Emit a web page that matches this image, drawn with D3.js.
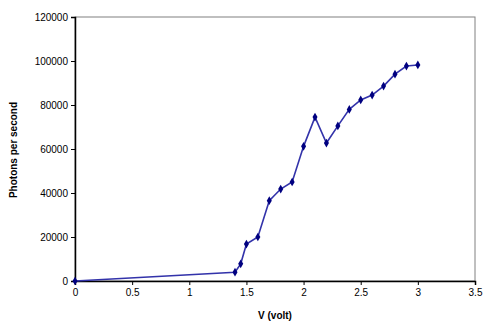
<!DOCTYPE html>
<html>
<head>
<meta charset="utf-8">
<script src="https://cdn.jsdelivr.net/npm/d3@7"></script>
<style>
  body { margin: 0; background: #fff; }
  text { font-family: "Liberation Sans", Arial, sans-serif; }
</style>
</head>
<body>
<div id="chart"></div>
<script>
// values
const voltage = [0, 1.4, 1.45, 1.5, 1.6, 1.7, 1.8, 1.9, 2.0, 2.1, 2.2, 2.3, 2.4, 2.5, 2.6, 2.7, 2.8, 2.9, 3.0];
const photons = [0, 4000, 7800, 16800, 20000, 36500, 41800, 45000, 61200, 74500, 62700, 70500, 78000, 82300, 84500, 88600, 94000, 97700, 98200];
const xTicks = [0, 0.5, 1, 1.5, 2, 2.5, 3, 3.5];
const yTicks = [0, 20000, 40000, 60000, 80000, 100000, 120000];

const margin = {top: 17, right: 8, bottom: 43, left: 75},
  width = 483 - margin.left - margin.right,
  height = 324 - margin.top - margin.bottom;

const svg = d3.select("#chart")
  .append("svg")
  .attr("width", 483)
  .attr("height", 324)
  .append("g")
  .attr("transform", `translate(${margin.left},${margin.top})`);

const x = d3.scaleLinear().domain([0, 3.5]).range([0, width]);
const y = d3.scaleLinear().domain([0, 120000]).range([height, 0]);

// plot area frame
svg.append("rect")
  .attr("width", width)
  .attr("height", height)
  .attr("fill", "none")
  .attr("stroke", "#808080")
  .attr("stroke-width", 1);

svg.append("g")
  .attr("transform", `translate(0,${height})`)
  .call(d3.axisBottom(x).tickValues(xTicks).tickSize(4).tickPadding(4).tickFormat(d3.format("")))
  .call(g => g.select(".domain").attr("stroke", "#000").attr("stroke-width", 1.5))
  .call(g => g.selectAll("text").style("font-size", "10px").attr("fill", "#000"));

svg.append("g")
  .call(d3.axisLeft(y).tickValues(yTicks).tickSize(4).tickPadding(3).tickFormat(d3.format("d")))
  .call(g => g.select(".domain").attr("stroke", "#000").attr("stroke-width", 1.5))
  .call(g => g.selectAll("text").style("font-size", "10px").attr("fill", "#000"));

const data = voltage.map((v, i) => [v, photons[i]]);

svg.append("path")
  .datum(data)
  .attr("fill", "none")
  .attr("stroke", "#3333aa")
  .attr("stroke-width", 1.6)
  .attr("d", d3.line().x(d => x(d[0])).y(d => y(d[1])));

svg.append("g")
  .selectAll("path")
  .data(data)
  .join("path")
  .attr("transform", d => `translate(${x(d[0])},${y(d[1])})`)
  .attr("d", d3.symbol(d3.symbolDiamond, 22))
  .attr("fill", "#000080");

// axis titles
svg.append("text")
  .attr("text-anchor", "middle")
  .attr("x", width / 2)
  .attr("y", height + 38)
  .style("font-size", "10px")
  .style("font-weight", "bold")
  .text("V (volt)");

svg.append("text")
  .attr("text-anchor", "middle")
  .attr("transform", "rotate(-90)")
  .attr("x", -(150 - margin.top))
  .attr("y", -58)
  .style("font-size", "10px")
  .style("font-weight", "bold")
  .text("Photons per second");
</script>
</body>
</html>
